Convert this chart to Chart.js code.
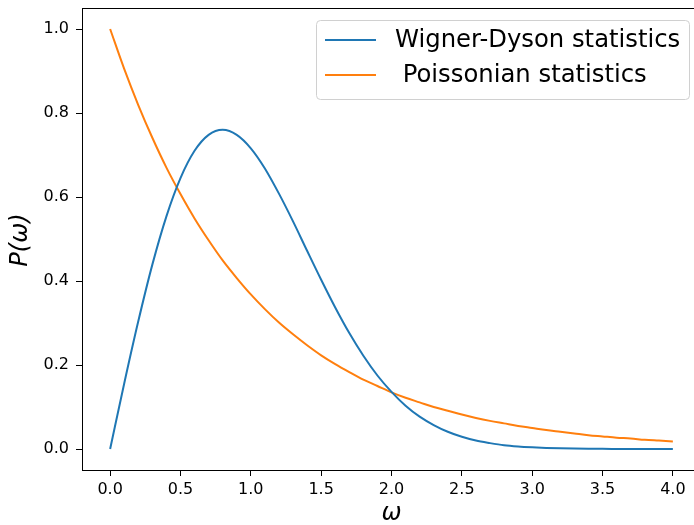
<!DOCTYPE html>
<html>
<head>
<meta charset="utf-8">
<script src="https://cdn.jsdelivr.net/npm/chart.js@4"></script>
<style>
  html, body { margin: 0; padding: 0; background: #fff; overflow: hidden; }
  #wrap { width: 704px; height: 525px; }
</style>
</head>
<body>
<div id="wrap"><canvas id="chart" width="704" height="525"></canvas></div>
<script>
// omega values, step 0.1 from 0 to 4
const omega = [0.0, 0.1, 0.2, 0.3, 0.4, 0.5, 0.6, 0.7, 0.8, 0.9,
  1.0, 1.1, 1.2, 1.3, 1.4, 1.5, 1.6, 1.7, 1.8, 1.9,
  2.0, 2.1, 2.2, 2.3, 2.4, 2.5, 2.6, 2.7, 2.8, 2.9,
  3.0, 3.1, 3.2, 3.3, 3.4, 3.5, 3.6, 3.7, 3.8, 3.9, 4.0];

const wignerDyson = [0.000, 0.156, 0.304, 0.439, 0.554, 0.645, 0.710, 0.748, 0.760, 0.748,
  0.716, 0.668, 0.608, 0.542, 0.472, 0.403, 0.337, 0.276, 0.222, 0.175,
  0.136, 0.103, 0.077, 0.057, 0.041, 0.029, 0.020, 0.014, 0.009, 0.006,
  0.004, 0.0025, 0.0016, 0.0010, 0.0006, 0.0003, 0.0002, 0.0001, 0.0001, 0.0, 0.0];

const poissonian = [1.000, 0.905, 0.819, 0.741, 0.670, 0.607, 0.549, 0.497, 0.449, 0.407,
  0.368, 0.333, 0.301, 0.273, 0.247, 0.223, 0.202, 0.183, 0.165, 0.150,
  0.135, 0.122, 0.111, 0.100, 0.091, 0.082, 0.074, 0.067, 0.061, 0.055,
  0.050, 0.045, 0.041, 0.037, 0.033, 0.030, 0.027, 0.025, 0.022, 0.020, 0.018];

const seriesLabels = ["Wigner-Dyson statistics", " Poissonian statistics"];
const xTicks = [0, 0.5, 1, 1.5, 2, 2.5, 3, 3.5, 4];
const yTicks = [0, 0.2, 0.4, 0.6, 0.8, 1.0];

const FONT = "'DejaVu Sans', sans-serif";

function toPoints(ys) {
  return omega.map((x, i) => ({ x: x, y: ys[i] }));
}

// frame, legend box and axis titles in matplotlib style
const decorations = {
  id: "decorations",
  afterDraw(chart) {
    const ctx = chart.ctx;
    const a = chart.chartArea;
    ctx.save();
    ctx.strokeStyle = "#000";
    ctx.lineWidth = 1;
    ctx.strokeRect(a.left + 0.5, a.top + 0.5, a.right - a.left, a.bottom - a.top);

    // legend
    const lx = 316, ly = 20, lw = 373, lh = 79;
    ctx.beginPath();
    ctx.roundRect(lx + 0.5, ly + 0.5, lw, lh, 4);
    ctx.fillStyle = "rgba(255,255,255,0.8)";
    ctx.fill();
    ctx.strokeStyle = "#d0d0d0";
    ctx.stroke();
    ctx.font = "24.3px " + FONT;
    ctx.textBaseline = "middle";
    ctx.textAlign = "left";
    chart.data.datasets.forEach((ds, i) => {
      const y = 40 + i * 35;
      ctx.strokeStyle = ds.borderColor;
      ctx.lineWidth = 2;
      ctx.beginPath();
      ctx.moveTo(325, y);
      ctx.lineTo(376, y);
      ctx.stroke();
      ctx.fillStyle = "#000";
      ctx.fillText(ds.label, 395, y + 1);
    });

    // axis titles
    ctx.fillStyle = "#000";
    ctx.font = "italic 24px " + FONT;
    ctx.textAlign = "center";
    ctx.fillText("\u03c9", (a.left + a.right) / 2, 514);
    ctx.translate(21, 240);
    ctx.rotate(-Math.PI / 2);
    ctx.fillText("P(\u03c9)", 0, 0);
    ctx.restore();
  }
};

new Chart(document.getElementById("chart"), {
  type: "line",
  data: {
    datasets: [
      {
        label: seriesLabels[0],
        data: toPoints(wignerDyson),
        borderColor: "#1f77b4",
        borderWidth: 2,
        pointRadius: 0,
        cubicInterpolationMode: "monotone",
        fill: false,
      },
      {
        label: seriesLabels[1],
        data: toPoints(poissonian),
        borderColor: "#ff7f0e",
        borderWidth: 2,
        pointRadius: 0,
        cubicInterpolationMode: "monotone",
        fill: false,
      },
    ],
  },
  options: {
    responsive: false,
    animation: false,
    layout: { padding: { top: 8, right: 3, left: 0, bottom: 0 } },
    plugins: { legend: { display: false }, tooltip: { enabled: false } },
    scales: {
      x: {
        type: "linear",
        min: -0.2,
        max: 4.2,
        afterBuildTicks: (s) => { s.ticks = xTicks.map((v) => ({ value: v })); },
        afterFit: (s) => { s.height = 55; s.paddingLeft = 0; s.paddingRight = 0; },
        grid: { drawOnChartArea: false, drawTicks: true, tickLength: 6, color: "#000" },
        border: { color: "#000", width: 1 },
        ticks: {
          color: "#000",
          font: { family: FONT, size: 16 },
          padding: 4,
          maxRotation: 0,
          callback: (v) => v.toFixed(1),
        },
      },
      y: {
        min: -0.05,
        max: 1.05,
        afterBuildTicks: (s) => { s.ticks = yTicks.map((v) => ({ value: v })); },
        afterFit: (s) => { s.width = 82; s.paddingTop = 0; s.paddingBottom = 0; },
        grid: { drawOnChartArea: false, drawTicks: true, tickLength: 6, color: "#000" },
        border: { color: "#000", width: 1 },
        ticks: {
          color: "#000",
          font: { family: FONT, size: 16 },
          padding: 7,
          callback: (v) => v.toFixed(1),
        },
      },
    },
  },
  plugins: [decorations],
});
</script>
</body>
</html>
